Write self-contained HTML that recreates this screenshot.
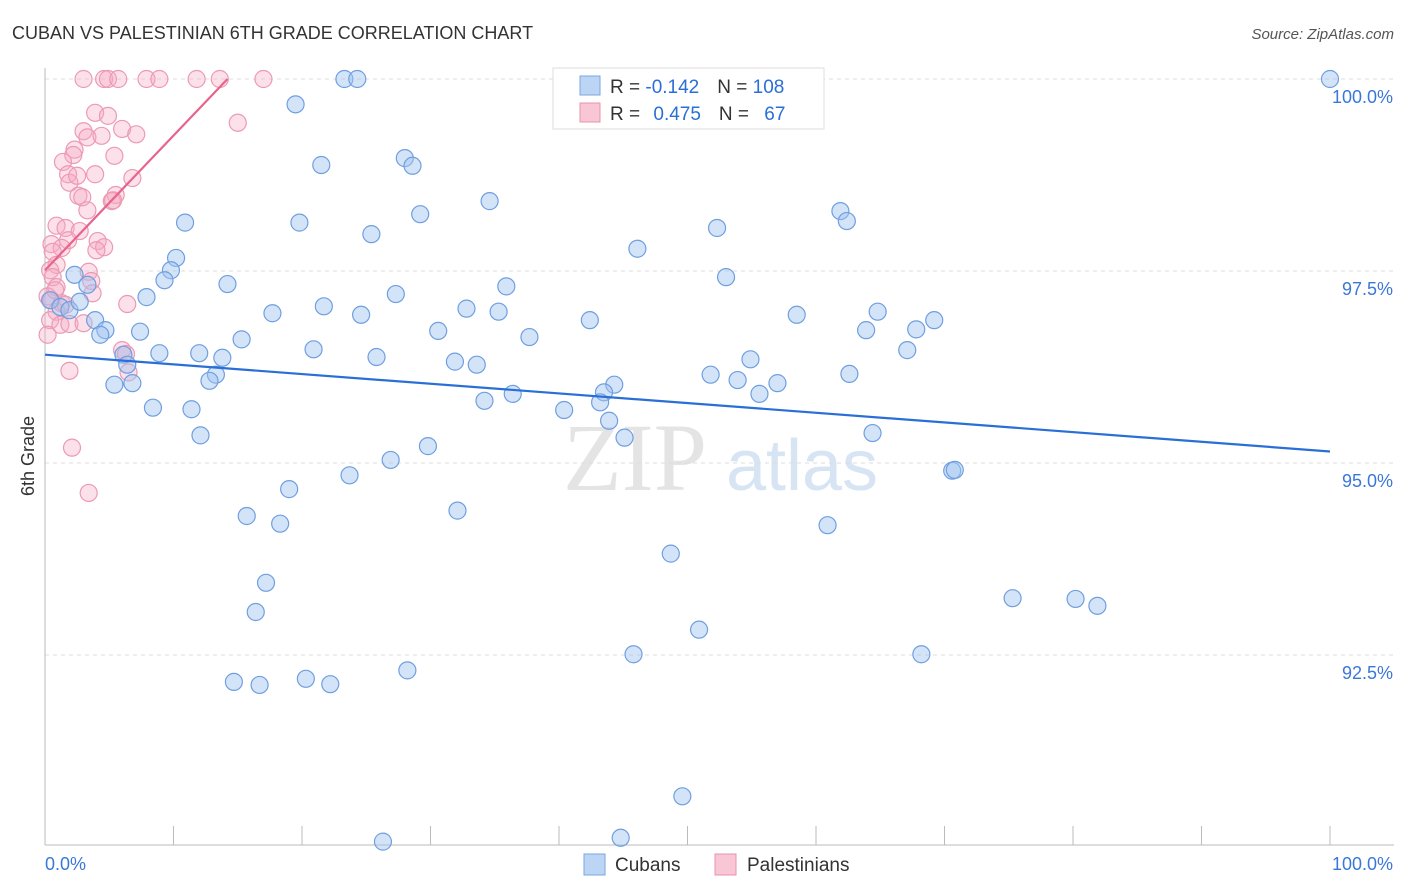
<!DOCTYPE html>
<html><head><meta charset="utf-8"><style>
body{margin:0;background:#fff;font-family:"Liberation Sans",sans-serif;}
svg{display:block}
</style></head><body>
<svg id="chart" width="1406" height="892">
<text x="12" y="39" font-size="18" fill="#333">CUBAN VS PALESTINIAN 6TH GRADE CORRELATION CHART</text>
<text x="1394" y="39" font-size="15" fill="#555" font-style="italic" text-anchor="end">Source: ZipAtlas.com</text>
<text x="34" y="456" font-size="18" fill="#333" transform="rotate(-90 34 456)" text-anchor="middle">6th Grade</text>
<g><text x="635" y="490" font-size="96" fill="#e4e4e4" font-family="Liberation Serif,serif" text-anchor="middle">ZIP</text><text x="802" y="490" font-size="72" fill="#d7e4f4" text-anchor="middle">atlas</text></g>
<g id="grid"></g><g id="axes"></g><g id="pts"></g><g id="trend"></g>
<g>
<rect x="553" y="68" width="271" height="61" fill="#fff" stroke="#ddd"/>
<rect x="580" y="76" width="20" height="19" fill="#bcd5f5" stroke="#7aa7e0"/>
<rect x="580" y="103" width="20" height="19" fill="#f9c6d6" stroke="#ea93ae"/>
<text x="610" y="93" font-size="19" fill="#333">R = <tspan fill="#2a6fd6">-0.142</tspan><tspan dx="18">N = </tspan><tspan fill="#2a6fd6">108</tspan></text>
<text x="610" y="120" font-size="19" fill="#333">R = <tspan dx="8" fill="#2a6fd6">0.475</tspan><tspan dx="18">N = </tspan><tspan dx="10" fill="#2a6fd6">67</tspan></text>
</g>
<g>
<rect x="584" y="854" width="21" height="21" fill="#bcd5f5" stroke="#7aa7e0"/>
<text x="615" y="871" font-size="19" fill="#333">Cubans</text>
<rect x="715" y="854" width="21" height="21" fill="#f9c6d6" stroke="#ea93ae"/>
<text x="747" y="871" font-size="19" fill="#333">Palestinians</text>
</g>
</svg>
<script>
const yTicks=[100,97.5,95,92.5];
const yTickLabels=["100.0%","97.5%","95.0%","92.5%"];
const xEndLabels=["0.0%","100.0%"];
const cubanX=[100,23.3,24.3,19.5,28.0,28.6,21.5,34.6,29.2,61.9,62.4,10.9,19.8,52.3,25.4,46.1,10.2,9.8,9.3,2.3,3.3,14.2,35.9,53.0,7.9,27.3,0.4,1.2,1.9,2.7,21.7,17.7,32.8,35.3,24.6,58.5,64.8,69.2,42.4,3.9,4.7,4.3,7.4,30.6,37.7,63.9,67.8,15.3,20.9,8.9,12.0,6.1,13.8,25.8,31.9,33.6,54.9,67.1,6.4,13.3,51.8,62.6,12.8,5.4,6.8,53.9,57.0,55.6,44.3,43.5,36.4,34.2,43.2,40.4,8.4,11.4,43.9,45.1,12.1,64.4,29.8,26.9,23.7,70.6,70.8,19.0,15.7,18.3,32.1,60.9,48.7,17.2,16.4,75.3,80.2,81.9,50.9,45.8,68.2,28.2,14.7,16.7,20.3,22.2,49.6,26.3,44.8];
const cubanY=[100,100,100,99.67,98.97,98.87,98.88,98.41,98.24,98.28,98.15,98.13,98.13,98.06,97.98,97.79,97.67,97.51,97.38,97.45,97.32,97.33,97.30,97.42,97.16,97.20,97.12,97.03,96.99,97.10,97.04,96.95,97.01,96.97,96.93,96.93,96.97,96.86,96.86,96.86,96.73,96.67,96.71,96.72,96.64,96.73,96.74,96.61,96.48,96.43,96.43,96.41,96.37,96.38,96.32,96.28,96.35,96.47,96.28,96.15,96.15,96.16,96.07,96.02,96.04,96.08,96.04,95.90,96.02,95.92,95.90,95.81,95.79,95.69,95.72,95.70,95.55,95.33,95.36,95.39,95.22,95.04,94.84,94.90,94.91,94.66,94.31,94.21,94.38,94.19,93.82,93.44,93.06,93.24,93.23,93.14,92.83,92.51,92.51,92.30,92.15,92.11,92.19,92.12,90.66,90.07,90.12];
const palX=[3.0,4.6,4.9,5.7,7.9,8.9,11.8,13.6,17.0,15.0,3.9,4.9,6.0,7.1,3.0,3.3,4.4,2.3,2.2,1.4,5.4,1.8,1.9,2.5,3.9,6.8,2.6,2.9,5.5,5.2,3.3,0.9,1.6,2.7,4.1,1.8,0.5,1.3,4.6,0.6,0.9,0.4,0.6,3.4,3.6,0.9,3.7,0.2,0.5,1.3,6.4,1.6,0.9,0.4,1.2,1.9,3.0,0.2,6.0,6.3,6.5,1.9,2.1,3.4,5.3,4.0,0.8];
const palY=[100,100,100,100,100,100,100,100,100,99.43,99.56,99.52,99.35,99.28,99.32,99.24,99.26,99.08,99.01,98.92,99.00,98.76,98.65,98.74,98.76,98.71,98.48,98.46,98.49,98.41,98.29,98.09,98.06,98.02,97.89,97.90,97.85,97.80,97.81,97.75,97.58,97.51,97.42,97.49,97.37,97.29,97.21,97.17,97.12,97.08,97.07,97.06,96.97,96.86,96.80,96.81,96.82,96.67,96.47,96.42,96.18,96.20,95.20,94.61,98.42,97.77,97.25];
const cubanTrendX=[0,100], cubanTrendY=[96.41,95.15];
const palTrendX=[0,14.2], palTrendY=[97.51,100];
const NS="http://www.w3.org/2000/svg";
const xs=v=>45+v*12.85, ys=v=>79+(100-v)*76.8;
function mk(t,a,p){const e=document.createElementNS(NS,t);for(const k in a)e.setAttribute(k,a[k]);document.getElementById(p).appendChild(e);return e;}
yTicks.forEach((t,i)=>{
 const l=mk('line',{x1:45,x2:1394,y1:ys(t),y2:ys(t),stroke:'#ddd','stroke-dasharray':'4 4'},'grid');
 
 
 const tx=mk('text',{x:1393,y:ys(t)+24,'font-size':18,fill:'#3a78d8','text-anchor':'end'},'grid');
 tx.textContent=yTickLabels[i];
 
 
});
const ax=mk('line',{x1:45,x2:45,y1:68,y2:845,stroke:'#bbb'},'axes');


const bx=mk('line',{x1:45,x2:1394,y1:845,y2:845,stroke:'#bbb'},'axes');


for(let v=0;v<=100;v+=10){
 const t=mk('line',{x1:xs(v),x2:xs(v),y1:826,y2:845,stroke:'#bbb'},'axes');
 
 
}
[[0,'start',45],[1,'end',1393]].forEach(([i,a,x])=>{
 const t=mk('text',{x:x,y:870,'font-size':18,fill:'#3a78d8','text-anchor':a},'axes');
 t.textContent=xEndLabels[i];
 
 
});
palX.forEach((x,i)=>{
 const c=mk('circle',{cx:xs(x),cy:ys(palY[i]),r:8.5,fill:'rgba(245,170,195,0.35)',stroke:'#ec9ab4','stroke-width':1.2},'pts');
 
 
});
cubanX.forEach((x,i)=>{
 const c=mk('circle',{cx:xs(x),cy:ys(cubanY[i]),r:8.5,fill:'rgba(160,195,240,0.45)',stroke:'#6f9fe0','stroke-width':1.2},'pts');
 
 
});
const t1=mk('line',{x1:xs(cubanTrendX[0]),y1:ys(cubanTrendY[0]),x2:xs(cubanTrendX[1]),y2:ys(cubanTrendY[1]),stroke:'#2a6fd6','stroke-width':2.2},'trend');


const t2=mk('line',{x1:xs(palTrendX[0]),y1:ys(palTrendY[0]),x2:xs(palTrendX[1]),y2:ys(palTrendY[1]),stroke:'#e8648c','stroke-width':2.2},'trend');


</script>
</body></html>
